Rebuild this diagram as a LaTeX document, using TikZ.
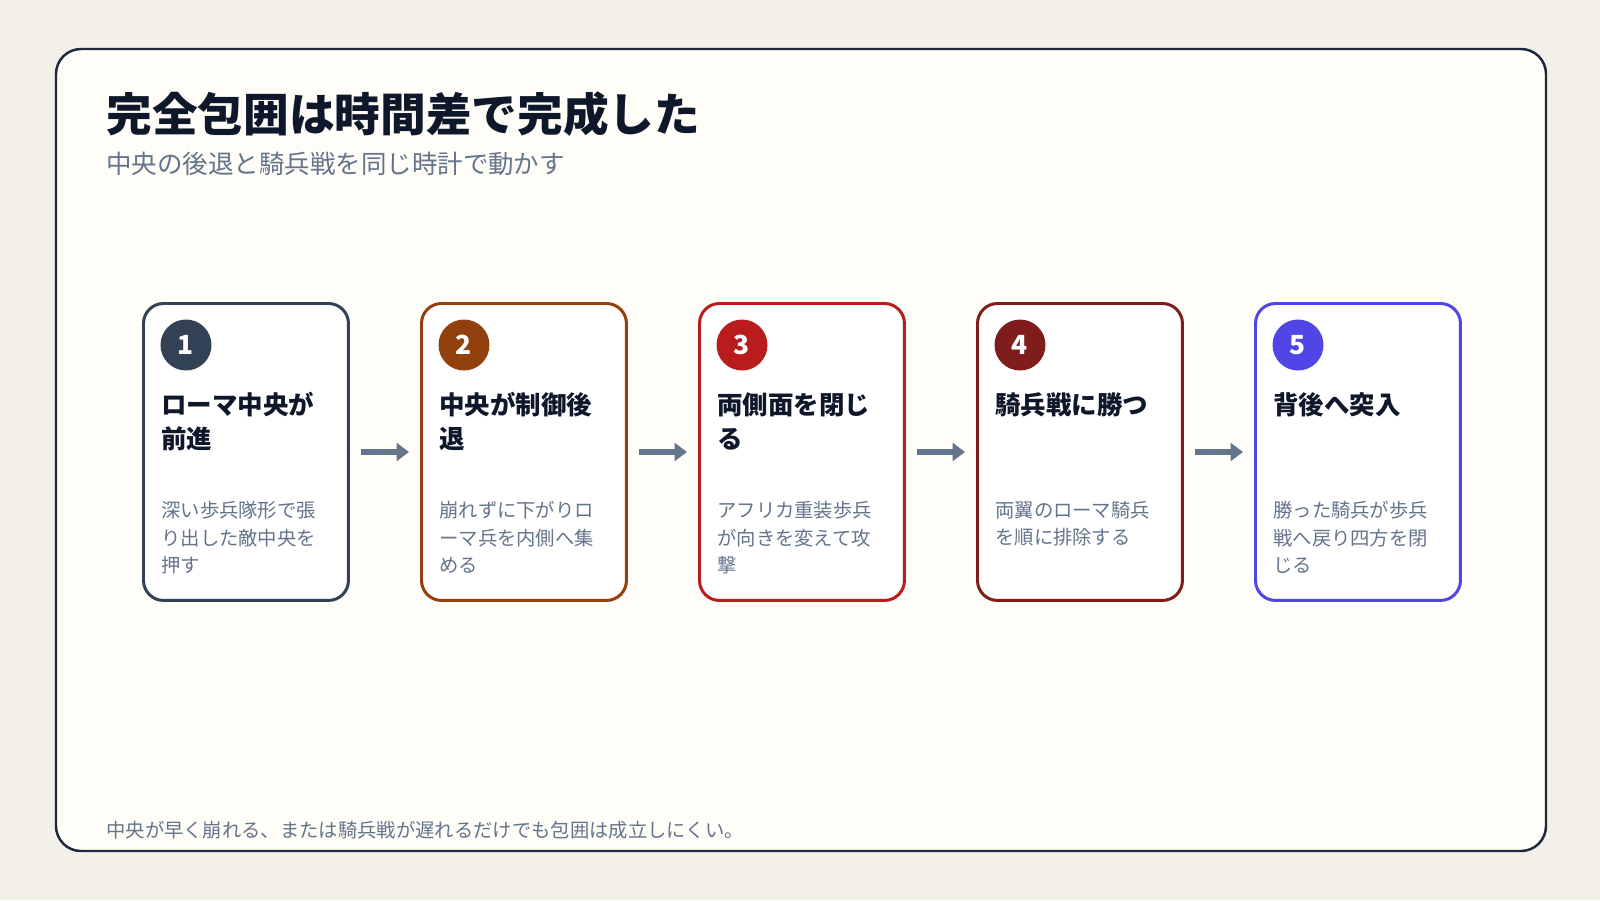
\documentclass[tikz,border=0pt]{standalone}
\usepackage{fontspec}
\setmainfont{Noto Sans CJK JP}
\usetikzlibrary{positioning, arrows.meta}
\definecolor{bgPaper}{HTML}{F3EFE9}
\definecolor{bgFrame}{HTML}{FFFDF7}
\definecolor{inkDark}{HTML}{1E293B}
\definecolor{inkTitle}{HTML}{0F172A}
\definecolor{inkGray}{HTML}{64748B}
\definecolor{stepA}{HTML}{334155}
\definecolor{stepB}{HTML}{92400E}
\definecolor{stepC}{HTML}{B91C1C}
\definecolor{stepD}{HTML}{7F1D1D}
\definecolor{stepE}{HTML}{4F46E5}
\tikzset{
    card/.style={
        draw=#1, line width=1.7pt, fill=white,
        rounded corners=0.4cm,
        minimum width=4.1cm, minimum height=5.94cm,
        inner sep=0pt, anchor=north west
    },
    badge/.style={
        circle, fill=#1, text=white, minimum size=1.02cm,
        inner sep=0pt, font=\fontsize{15}{15}\selectfont\bfseries
    },
    heading/.style={
        anchor=north west, align=left, inner sep=0pt, text=inkTitle,
        font=\fontsize{14.5}{19.5}\selectfont\bfseries
    },
    body/.style={
        anchor=north west, align=left, inner sep=0pt, text=inkGray,
        font=\fontsize{11}{15.6}\selectfont
    },
    flow/.style={
        -{Triangle[length=7pt,width=10pt]}, line width=3pt, color=inkGray
    }
}
\begin{document}
\begin{tikzpicture}[x=0.02cm,y=-0.02cm]
    \useasboundingbox[fill=bgPaper] (0,0) rectangle (1600,900);
    % frame
    \draw[inkDark, line width=1.4pt, fill=bgFrame, rounded corners=0.5cm] (56,49) rectangle (1546,851);

    \node[anchor=west, inner sep=0pt, text=inkTitle, font=\fontsize{26}{26}\selectfont\bfseries] (title) at (106,114) {完全包囲は時間差で完成した};
    \node[anchor=west, inner sep=0pt, text=inkGray, font=\fontsize{14.5}{14.5}\selectfont] (subtitle) at (106,164) {中央の後退と騎兵戦を同じ時計で動かす};

    % steps
    \foreach \i/\col/\head/\txt in {
        1/stepA/{ローマ中央が\\前進}/{深い歩兵隊形で張\\り出した敵中央を\\押す},
        2/stepB/{中央が制御後\\退}/{崩れずに下がりロ\\ーマ兵を内側へ集\\める},
        3/stepC/{両側面を閉じ\\る}/{アフリカ重装歩兵\\が向きを変えて攻\\撃},
        4/stepD/{騎兵戦に勝つ}/{両翼のローマ騎兵\\を順に排除する},
        5/stepE/{背後へ突入}/{勝った騎兵が歩兵\\戦へ戻り四方を閉\\じる}} {
        \node[card=\col] (card\i) at ({142+278*(\i-1)},302) {};
        \node[badge=\col] (badge\i) at ({186+278*(\i-1)},345) {\i};
        \node[heading] (head\i) at ({161+278*(\i-1)},392) {\head};
        \node[body] (body\i) at ({161+278*(\i-1)},501) {\txt};
    }
    \foreach \i [evaluate=\i as \j using int(\i+1)] in {1,2,3,4} {
        \draw[flow] ([xshift=0.22cm]card\i.east) -- ([xshift=-0.22cm]card\j.west);
    }

    \node[anchor=west, inner sep=0pt, text=inkGray, font=\fontsize{11}{11}\selectfont] (note) at (106,830) {中央が早く崩れる、または騎兵戦が遅れるだけでも包囲は成立しにくい。};
\end{tikzpicture}
\end{document}
